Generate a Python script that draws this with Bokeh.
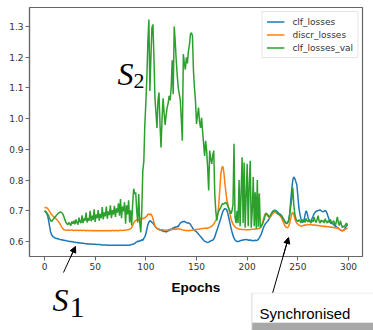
from bokeh.plotting import figure
from bokeh.models import Range1d, FixedTicker, PrintfTickFormatter, Legend, LegendItem, Arrow, NormalHead
from bokeh.core.properties import value
from bokeh.embed import file_html
from bokeh.resources import INLINE

epochs = list(range(300))

clf_losses = [
    0.700, 0.697, 0.692, 0.685, 0.670, 0.650, 0.632, 0.622, 0.617, 0.614,
    0.612, 0.611, 0.610, 0.609, 0.608, 0.607, 0.606, 0.606, 0.605, 0.604,
    0.603, 0.603, 0.602, 0.601, 0.601, 0.600, 0.600, 0.599, 0.599, 0.598,
    0.598, 0.597, 0.597, 0.596, 0.596, 0.595, 0.595, 0.594, 0.594, 0.594,
    0.593, 0.593, 0.593, 0.592, 0.592, 0.592, 0.592, 0.591, 0.591, 0.591,
    0.591, 0.590, 0.590, 0.590, 0.590, 0.590, 0.589, 0.589, 0.589, 0.589,
    0.589, 0.589, 0.588, 0.588, 0.588, 0.588, 0.588, 0.588, 0.588, 0.588,
    0.588, 0.588, 0.588, 0.588, 0.588, 0.588, 0.588, 0.588, 0.588, 0.588,
    0.588, 0.588, 0.588, 0.588, 0.589, 0.589, 0.590, 0.591, 0.592, 0.594,
    0.597, 0.599, 0.601, 0.600, 0.603, 0.602, 0.606, 0.604, 0.610, 0.615,
    0.625, 0.640, 0.655, 0.663, 0.668, 0.666, 0.662, 0.660, 0.655, 0.650,
    0.646, 0.643, 0.640, 0.641, 0.637, 0.639, 0.634, 0.636, 0.632, 0.634,
    0.631, 0.633, 0.636, 0.635, 0.640, 0.638, 0.642, 0.645, 0.643, 0.648,
    0.646, 0.650, 0.648, 0.655, 0.660, 0.662, 0.665, 0.664, 0.666, 0.663,
    0.662, 0.660, 0.661, 0.659, 0.656, 0.650, 0.645, 0.640, 0.636, 0.634,
    0.632, 0.628, 0.624, 0.620, 0.616, 0.612, 0.608, 0.604, 0.601, 0.599,
    0.598, 0.597, 0.598, 0.600, 0.602, 0.603, 0.604, 0.608, 0.615, 0.625,
    0.635, 0.645, 0.655, 0.665, 0.675, 0.688, 0.698, 0.704, 0.707, 0.706,
    0.702, 0.690, 0.675, 0.660, 0.645, 0.632, 0.620, 0.611, 0.605, 0.602,
    0.600, 0.600, 0.601, 0.602, 0.603, 0.604, 0.605, 0.606, 0.606, 0.607,
    0.606, 0.605, 0.604, 0.605, 0.603, 0.604, 0.602, 0.603, 0.604, 0.603,
    0.604, 0.607, 0.612, 0.618, 0.625, 0.635, 0.645, 0.652, 0.658, 0.662,
    0.665, 0.670, 0.676, 0.682, 0.688, 0.693, 0.697, 0.700, 0.701, 0.699,
    0.696, 0.692, 0.690, 0.688, 0.684, 0.678, 0.672, 0.666, 0.662, 0.660,
    0.661, 0.668, 0.690, 0.735, 0.770, 0.800, 0.810, 0.805, 0.795, 0.785,
    0.750, 0.710, 0.690, 0.675, 0.665, 0.662, 0.668, 0.685, 0.700, 0.695,
    0.680, 0.668, 0.664, 0.668, 0.675, 0.682, 0.690, 0.695, 0.698, 0.700,
    0.700, 0.702, 0.703, 0.700, 0.698, 0.697, 0.699, 0.701, 0.698, 0.690,
    0.680, 0.670, 0.662, 0.658, 0.660, 0.656, 0.652, 0.650, 0.648, 0.646,
    0.643, 0.640, 0.638, 0.636, 0.635, 0.637, 0.640, 0.645, 0.650, 0.655,
]

discr_losses = [
    0.710, 0.711, 0.710, 0.708, 0.703, 0.698, 0.692, 0.688, 0.684, 0.681,
    0.678, 0.675, 0.672, 0.668, 0.664, 0.659, 0.653, 0.647, 0.642, 0.639,
    0.638, 0.637, 0.637, 0.638, 0.637, 0.637, 0.638, 0.637, 0.637, 0.636,
    0.637, 0.636, 0.637, 0.637, 0.636, 0.636, 0.637, 0.636, 0.636, 0.637,
    0.636, 0.635, 0.636, 0.636, 0.635, 0.636, 0.636, 0.635, 0.636, 0.635,
    0.636, 0.635, 0.635, 0.636, 0.635, 0.635, 0.636, 0.635, 0.635, 0.636,
    0.635, 0.635, 0.636, 0.635, 0.635, 0.636, 0.635, 0.636, 0.636, 0.635,
    0.636, 0.636, 0.635, 0.636, 0.636, 0.637, 0.636, 0.636, 0.637, 0.637,
    0.637, 0.638, 0.638, 0.639, 0.640, 0.642, 0.645, 0.652, 0.660, 0.666,
    0.668, 0.670, 0.671, 0.670, 0.672, 0.674, 0.673, 0.676, 0.675, 0.678,
    0.680, 0.683, 0.688, 0.690, 0.686, 0.690, 0.684, 0.675, 0.662, 0.652,
    0.646, 0.642, 0.640, 0.639, 0.639, 0.638, 0.638, 0.638, 0.637, 0.637,
    0.638, 0.637, 0.638, 0.638, 0.639, 0.638, 0.639, 0.640, 0.640, 0.641,
    0.640, 0.641, 0.642, 0.641, 0.640, 0.639, 0.638, 0.637, 0.637, 0.636,
    0.636, 0.636, 0.635, 0.636, 0.636, 0.637, 0.637, 0.638, 0.638, 0.639,
    0.639, 0.640, 0.640, 0.641, 0.641, 0.642, 0.642, 0.642, 0.643, 0.643,
    0.643, 0.644, 0.645, 0.646, 0.648, 0.650, 0.653, 0.657, 0.662, 0.668,
    0.676, 0.690, 0.720, 0.770, 0.820, 0.840, 0.845, 0.825, 0.790, 0.760,
    0.735, 0.720, 0.705, 0.690, 0.675, 0.664, 0.657, 0.652, 0.648, 0.645,
    0.643, 0.642, 0.641, 0.640, 0.640, 0.639, 0.639, 0.639, 0.638, 0.638,
    0.638, 0.638, 0.638, 0.639, 0.639, 0.640, 0.640, 0.640, 0.641, 0.641,
    0.641, 0.642, 0.643, 0.645, 0.650, 0.660, 0.672, 0.684, 0.690, 0.688,
    0.684, 0.680, 0.678, 0.680, 0.685, 0.690, 0.694, 0.696, 0.695, 0.692,
    0.690, 0.688, 0.685, 0.682, 0.676, 0.668, 0.660, 0.653, 0.648, 0.646,
    0.645, 0.650, 0.660, 0.675, 0.690, 0.695, 0.688, 0.675, 0.665, 0.660,
    0.656, 0.653, 0.652, 0.651, 0.650, 0.652, 0.653, 0.654, 0.653, 0.655,
    0.655, 0.654, 0.656, 0.655, 0.654, 0.653, 0.655, 0.654, 0.652, 0.653,
    0.652, 0.651, 0.652, 0.650, 0.651, 0.650, 0.649, 0.650, 0.649, 0.648,
    0.648, 0.647, 0.648, 0.646, 0.647, 0.645, 0.646, 0.644, 0.645, 0.643,
    0.642, 0.640, 0.638, 0.636, 0.635, 0.636, 0.638, 0.640, 0.642, 0.644,
]

clf_losses_val = [
    0.700, 0.698, 0.695, 0.690, 0.685, 0.676, 0.668, 0.665, 0.670, 0.674,
    0.678, 0.682, 0.686, 0.690, 0.693, 0.695, 0.696, 0.694, 0.690, 0.682,
    0.672, 0.664, 0.658, 0.655, 0.662, 0.657, 0.652, 0.665, 0.658, 0.668,
    0.656, 0.672, 0.662, 0.655, 0.678, 0.664, 0.660, 0.685, 0.660, 0.675,
    0.668, 0.694, 0.662, 0.676, 0.668, 0.700, 0.666, 0.684, 0.670, 0.705,
    0.664, 0.688, 0.676, 0.702, 0.668, 0.690, 0.676, 0.712, 0.672, 0.695,
    0.682, 0.714, 0.674, 0.698, 0.686, 0.718, 0.676, 0.702, 0.688, 0.716,
    0.680, 0.708, 0.694, 0.724, 0.684, 0.738, 0.676, 0.714, 0.698, 0.728,
    0.658, 0.718, 0.688, 0.734, 0.662, 0.702, 0.652, 0.722, 0.772, 0.755,
    0.760, 0.700, 0.662, 0.755, 0.660, 0.630, 0.700, 0.830, 0.860, 0.980,
    1.050, 1.133, 1.250, 1.323, 1.090, 1.200, 1.296, 1.307, 1.200, 1.066,
    1.020, 0.970, 1.060, 1.085, 0.980, 0.906, 1.000, 1.066, 1.020, 0.980,
    1.010, 1.036, 1.050, 1.074, 1.060, 1.100, 1.190, 1.080, 1.300, 1.250,
    1.190, 1.140, 1.100, 1.080, 1.060, 1.000, 0.928, 1.210, 1.180, 1.160,
    1.200, 1.180, 1.220, 1.240, 1.275, 1.280, 1.270, 1.155, 1.100, 1.058,
    0.983, 1.010, 1.036, 0.990, 0.970, 1.003, 0.960, 0.918, 0.879, 0.928,
    0.896, 0.840, 0.766, 0.896, 0.870, 0.853, 0.880, 0.896, 0.756, 0.700,
    0.668, 0.690, 0.700, 0.705, 0.712, 0.720, 0.724, 0.722, 0.725, 0.728,
    0.722, 0.715, 0.705, 0.700, 0.690, 0.700, 0.720, 0.918, 0.680, 0.660,
    0.700, 0.660, 0.800, 0.650, 0.757, 0.874, 0.660, 0.857, 0.645, 0.750,
    0.853, 0.650, 0.780, 0.863, 0.645, 0.700, 0.810, 0.650, 0.760, 0.642,
    0.800, 0.648, 0.756, 0.645, 0.650, 0.655, 0.665, 0.675, 0.690, 0.692,
    0.688, 0.684, 0.680, 0.686, 0.692, 0.698, 0.700, 0.702, 0.700, 0.698,
    0.692, 0.690, 0.688, 0.684, 0.682, 0.678, 0.672, 0.665, 0.660, 0.658,
    0.662, 0.670, 0.690, 0.715, 0.740, 0.776, 0.720, 0.690, 0.675, 0.668,
    0.665, 0.670, 0.668, 0.660, 0.672, 0.666, 0.670, 0.662, 0.675, 0.668,
    0.664, 0.672, 0.666, 0.660, 0.670, 0.664, 0.680, 0.668, 0.662, 0.672,
    0.684, 0.666, 0.660, 0.670, 0.664, 0.668, 0.660, 0.674, 0.666, 0.660,
    0.668, 0.662, 0.672, 0.664, 0.658, 0.668, 0.662, 0.650, 0.665, 0.680,
    0.660, 0.652, 0.668, 0.655, 0.645, 0.650, 0.648, 0.655, 0.660, 0.652,
]

series_names = ["clf_losses", "discr_losses", "clf_losses_val"]
x_ticks = [0, 50, 100, 150, 200, 250, 300]
y_ticks = [0.6, 0.7, 0.8, 0.9, 1.0, 1.1, 1.2, 1.3]
x_label = "Epochs"

p = figure(width=373, height=330, output_backend="svg", toolbar_location=None,
           x_range=Range1d(-14.8, 313.8), y_range=Range1d(0.5512, 1.362),
           min_border_left=29, min_border_right=11, min_border_top=7, min_border_bottom=74)
p.background_fill_color = "white"
p.border_fill_color = "white"
p.outline_line_color = "#666666"
p.outline_line_width = 1.2
p.xgrid.visible = False
p.ygrid.visible = False

colors = ["#1f77b4", "#ff7f0e", "#2ca02c"]
rends = []
for ys, c in zip([clf_losses, discr_losses, clf_losses_val], colors):
    rends.append(p.line(epochs, ys, line_color=c, line_width=1.5))

for ax in (p.xaxis[0], p.yaxis[0]):
    ax.axis_line_color = "#666666"
    ax.axis_line_width = 1.2
    ax.major_tick_line_color = "#666666"
    ax.major_tick_out = 4
    ax.major_tick_in = 0
    ax.minor_tick_line_color = None
    ax.major_label_text_font = "DejaVu Sans"
    ax.major_label_text_font_size = "9px"
    ax.major_label_text_color = "#333333"
    ax.major_label_standoff = 2

p.xaxis.ticker = FixedTicker(ticks=x_ticks)
p.yaxis.ticker = FixedTicker(ticks=y_ticks)
p.xaxis.formatter = PrintfTickFormatter(format="%d")
p.yaxis.formatter = PrintfTickFormatter(format="%.1f")
p.xaxis.axis_label = x_label
p.xaxis.axis_label_text_font = "Liberation Sans"
p.xaxis.axis_label_text_font_style = "bold"
p.xaxis.axis_label_text_font_size = "13.5px"
p.xaxis.axis_label_text_color = "black"
p.xaxis.axis_label_standoff = 7

legend = Legend(items=[LegendItem(label=n, renderers=[r]) for n, r in zip(series_names, rends)],
                location="top_right")
legend.label_text_font = "DejaVu Sans"
legend.label_text_font_size = "9px"
legend.label_text_color = "#333333"
legend.label_height = 11
legend.glyph_height = 11
legend.glyph_width = 18
legend.label_standoff = 8
legend.spacing = 2
legend.padding = 4
legend.margin = 4
legend.border_line_color = "#cccccc"
legend.border_line_width = 1
legend.background_fill_alpha = 0.9
p.add_layout(legend)

serif = value("Liberation Serif")
# S2 annotation
p.text(x=[72.0], y=[1.147], text=["S"], text_font=serif, text_font_style="italic",
       text_font_size="32px", text_baseline="alphabetic", text_color="black", level="overlay")
p.text(x=[87.8], y=[1.124], text=["2"], text_font=serif,
       text_font_size="22px", text_baseline="alphabetic", text_color="black", level="overlay")
# S1 annotation
p.text(x=[7.9], y=[0.408], text=["S"], text_font=serif, text_font_style="italic",
       text_font_size="32px", text_baseline="alphabetic", text_color="black", level="overlay")
p.text(x=[24.7], y=[0.385], text=["1"], text_font=serif,
       text_font_size="30px", text_baseline="alphabetic", text_color="black", level="overlay")

# arrows
p.segment(x0=[18.75, 225.0], y0=[0.499, 0.4307], x1=[30.0, 240.4], y1=[0.580, 0.609],
          line_color="black", line_width=1, level="overlay")
for (xs, ys, xe, ye) in [(18.75, 0.499, 30.6, 0.584), (225.0, 0.4307, 240.8, 0.613)]:
    p.add_layout(Arrow(end=NormalHead(size=6, fill_color="black", line_color="black", line_width=1),
                       x_start=xs, y_start=ys, x_end=xe, y_end=ye, line_width=1, line_color="black"))

# Synchronised box with soft shadow
p.quad(left=[203.8], right=[380.0], top=[0.4335], bottom=[0.300], fill_color="#e6e6e6",
       line_color=None, level="overlay")
p.quad(left=[205.0], right=[380.0], top=[0.3362], bottom=[0.300], fill_color="#a8a8a8",
       line_color=None, level="overlay")
p.quad(left=[205.3], right=[380.0], top=[0.4307], bottom=[0.3362], fill_color="white",
       line_color=None, level="overlay")
p.text(x=[212.2], y=[0.3665], text=["Synchronised"], text_font=value("Liberation Sans"),
       text_font_size="15px", text_baseline="alphabetic", text_color="black", level="overlay")

open("out.html", "w").write(file_html(p, INLINE))
